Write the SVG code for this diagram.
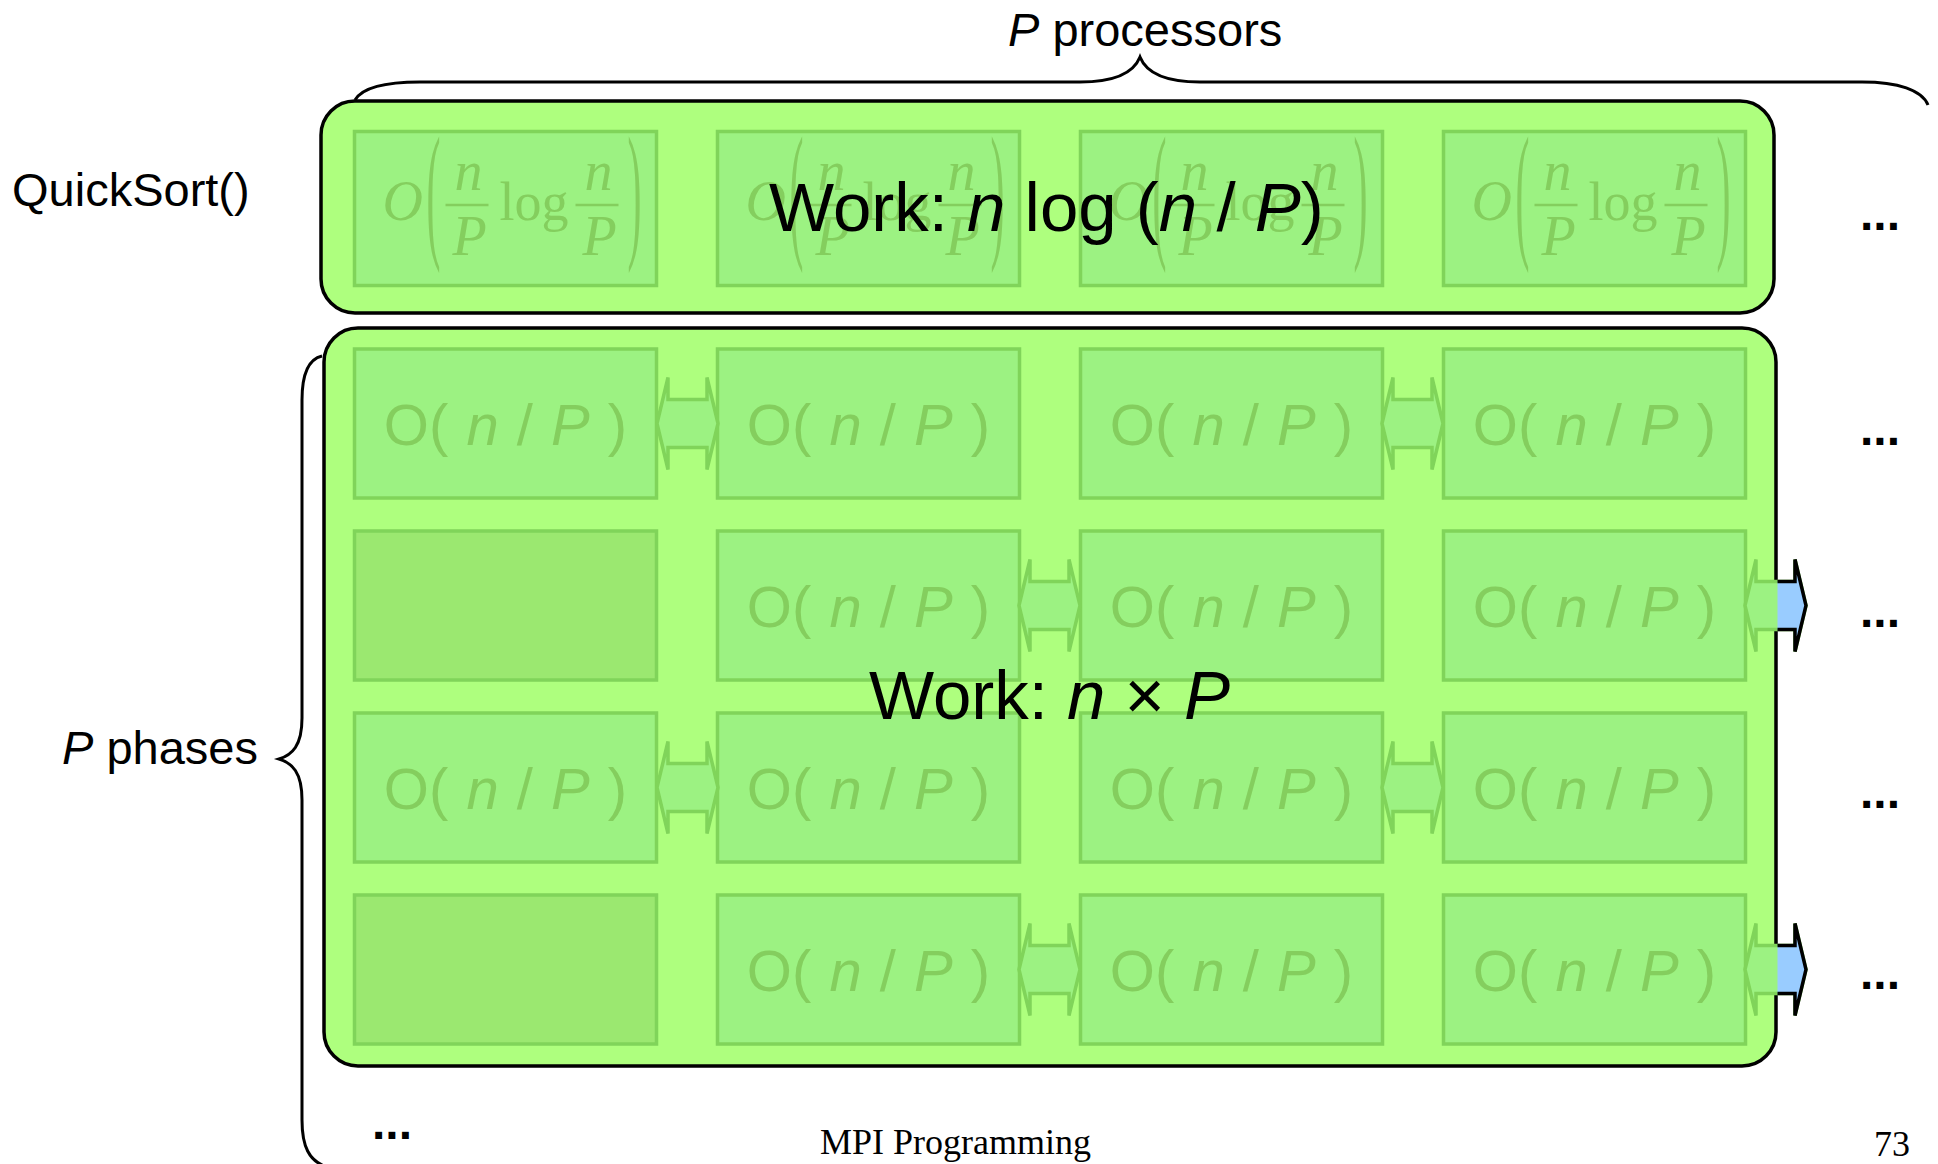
<svg xmlns="http://www.w3.org/2000/svg" xmlns:xlink="http://www.w3.org/1999/xlink" width="1938" height="1164" viewBox="0 0 1938 1164">
  <style>
    .lbl { font-family: "Liberation Sans", Arial, sans-serif; font-size: 47px; fill: #000; }
    .dots { font-family: "Liberation Sans", Arial, sans-serif; font-size: 48px; font-weight: bold; fill: #000; }
    .work { font-family: "Liberation Sans", Arial, sans-serif; font-size: 69px; fill: #000; }
    .it { font-style: italic; }
    .group { fill: #aeff7e; stroke: #000; stroke-width: 3.5; }
    .cell { fill: #9cf282; stroke: #80d45a; stroke-width: 3.5; }
    .idle { fill: #9be870; stroke: #80d45a; stroke-width: 3.5; }
    .cost { font-family: "Liberation Sans", Arial, sans-serif; font-size: 58px; word-spacing: 2px; fill: #84ce5e; text-anchor: middle; }
    .math { font-family: "Liberation Serif", "Times New Roman", serif; fill: #84ce5e; }
    .mi { font-style: italic; font-size: 56px; }
    .fr { font-style: italic; font-size: 56px; text-anchor: middle; }
    .fn { font-size: 54px; }
    .paren { font-family: "Liberation Serif", "Times New Roman", serif; font-size: 150px; fill: #84ce5e; }
    .bar { stroke: #84ce5e; stroke-width: 2.5; }
    .xg { fill: #9cf282; stroke: #80d45a; stroke-width: 3.5; stroke-linejoin: miter; }
    .xb { fill: #99ccff; stroke: #000; stroke-width: 3.5; stroke-linejoin: miter; }
    .brace { fill: none; stroke: #000; stroke-width: 3; }
    .foot { font-family: "Liberation Serif", "Times New Roman", serif; font-size: 36px; fill: #000; }
  </style>
  <defs>
    <!-- double-headed exchange arrow, left tip at origin -->
    <polygon id="xchg" points="0,0 11,-46 11,-24 50,-24 50,-46 61,0 50,46 50,24 11,24 11,46"/>
    <!-- O(n/P log n/P) cost term, drawn relative to the cell's left edge -->
    <g id="qcost">
      <text class="math mi" x="28" y="220">O</text>
      <text class="paren" transform="translate(72,241) scale(0.28,1)">(</text>
      <text class="math fr" x="114" y="190">n</text>
      <line class="bar" x1="91" y1="205" x2="134" y2="205"/>
      <text class="math fr" x="115" y="255">P</text>
      <text class="math fn" x="145" y="220">log</text>
      <text class="math fr" x="244" y="190">n</text>
      <line class="bar" x1="221" y1="205" x2="264" y2="205"/>
      <text class="math fr" x="245" y="255">P</text>
      <text class="paren" transform="translate(273,241) scale(0.28,1)">)</text>
    </g>
    <clipPath id="outside">
      <rect x="1777.5" y="0" width="200" height="1164"/>
    </clipPath>
  </defs>

  <!-- labels and braces -->
  <g id="labels">
    <text class="lbl" x="1008" y="46"><tspan class="it">P</tspan> processors</text>
    <text class="lbl" x="12" y="206">QuickSort()</text>
    <text class="lbl" x="62" y="764"><tspan class="it">P</tspan> phases</text>
    <path class="brace" d="M355,100 C362,88 385,82 420,82 L1080,82 C1115,82 1134,72 1140,57 C1146,72 1165,82 1200,82 L1862,82 C1898,82 1922,90 1928,105"/>
    <path class="brace" d="M322,356 C309,359 302,372 302,400 L302,718 C302,746 292,755 279,759 C292,763 302,772 302,800 L302,1120 C302,1148 310,1160 324,1166"/>
  </g>

  <!-- QuickSort stage -->
  <g id="quicksort">
    <rect class="group" x="321" y="101" width="1453" height="212" rx="34" ry="34"/>
    <g id="q1"><rect class="cell" x="354.5" y="131.5" width="302" height="154"/><use xlink:href="#qcost" transform="translate(354.5,0)"/></g>
    <g id="q2"><rect class="cell" x="717.5" y="131.5" width="302" height="154"/><use xlink:href="#qcost" transform="translate(717.5,0)"/></g>
    <g id="q3"><rect class="cell" x="1080.5" y="131.5" width="302" height="154"/><use xlink:href="#qcost" transform="translate(1080.5,0)"/></g>
    <g id="q4"><rect class="cell" x="1443.5" y="131.5" width="302" height="154"/><use xlink:href="#qcost" transform="translate(1443.5,0)"/></g>
  </g>

  <!-- merge phases -->
  <g id="phases">
    <rect class="group" x="324" y="328" width="1452" height="738" rx="34" ry="34"/>

    <g id="r1c1"><rect class="cell" x="354.5" y="349" width="302" height="149"/><text class="cost" x="505.5" y="445">O( <tspan class="it">n</tspan> / <tspan class="it">P</tspan> )</text></g>
    <g id="r1c2"><rect class="cell" x="717.5" y="349" width="302" height="149"/><text class="cost" x="868.5" y="445">O( <tspan class="it">n</tspan> / <tspan class="it">P</tspan> )</text></g>
    <g id="r1c3"><rect class="cell" x="1080.5" y="349" width="302" height="149"/><text class="cost" x="1231.5" y="445">O( <tspan class="it">n</tspan> / <tspan class="it">P</tspan> )</text></g>
    <g id="r1c4"><rect class="cell" x="1443.5" y="349" width="302" height="149"/><text class="cost" x="1594.5" y="445">O( <tspan class="it">n</tspan> / <tspan class="it">P</tspan> )</text></g>

    <g id="r2c1"><rect class="idle" x="354.5" y="531" width="302" height="149"/></g>
    <g id="r2c2"><rect class="cell" x="717.5" y="531" width="302" height="149"/><text class="cost" x="868.5" y="627">O( <tspan class="it">n</tspan> / <tspan class="it">P</tspan> )</text></g>
    <g id="r2c3"><rect class="cell" x="1080.5" y="531" width="302" height="149"/><text class="cost" x="1231.5" y="627">O( <tspan class="it">n</tspan> / <tspan class="it">P</tspan> )</text></g>
    <g id="r2c4"><rect class="cell" x="1443.5" y="531" width="302" height="149"/><text class="cost" x="1594.5" y="627">O( <tspan class="it">n</tspan> / <tspan class="it">P</tspan> )</text></g>

    <g id="r3c1"><rect class="cell" x="354.5" y="713" width="302" height="149"/><text class="cost" x="505.5" y="809">O( <tspan class="it">n</tspan> / <tspan class="it">P</tspan> )</text></g>
    <g id="r3c2"><rect class="cell" x="717.5" y="713" width="302" height="149"/><text class="cost" x="868.5" y="809">O( <tspan class="it">n</tspan> / <tspan class="it">P</tspan> )</text></g>
    <g id="r3c3"><rect class="cell" x="1080.5" y="713" width="302" height="149"/><text class="cost" x="1231.5" y="809">O( <tspan class="it">n</tspan> / <tspan class="it">P</tspan> )</text></g>
    <g id="r3c4"><rect class="cell" x="1443.5" y="713" width="302" height="149"/><text class="cost" x="1594.5" y="809">O( <tspan class="it">n</tspan> / <tspan class="it">P</tspan> )</text></g>

    <g id="r4c1"><rect class="idle" x="354.5" y="895" width="302" height="149"/></g>
    <g id="r4c2"><rect class="cell" x="717.5" y="895" width="302" height="149"/><text class="cost" x="868.5" y="991">O( <tspan class="it">n</tspan> / <tspan class="it">P</tspan> )</text></g>
    <g id="r4c3"><rect class="cell" x="1080.5" y="895" width="302" height="149"/><text class="cost" x="1231.5" y="991">O( <tspan class="it">n</tspan> / <tspan class="it">P</tspan> )</text></g>
    <g id="r4c4"><rect class="cell" x="1443.5" y="895" width="302" height="149"/><text class="cost" x="1594.5" y="991">O( <tspan class="it">n</tspan> / <tspan class="it">P</tspan> )</text></g>
  </g>

  <!-- pairwise exchanges between neighbouring processors -->
  <g id="connectors">
    <use xlink:href="#xchg" class="xg" transform="translate(657,423.5)"/>
    <use xlink:href="#xchg" class="xg" transform="translate(1382,423.5)"/>
    <use xlink:href="#xchg" class="xg" transform="translate(1019,605.5)"/>
    <use xlink:href="#xchg" class="xg" transform="translate(1745,605.5)"/>
    <use xlink:href="#xchg" class="xg" transform="translate(657,787.5)"/>
    <use xlink:href="#xchg" class="xg" transform="translate(1382,787.5)"/>
    <use xlink:href="#xchg" class="xg" transform="translate(1019,969.5)"/>
    <use xlink:href="#xchg" class="xg" transform="translate(1745,969.5)"/>
    <g clip-path="url(#outside)">
      <use xlink:href="#xchg" class="xb" transform="translate(1745,605.5)"/>
      <use xlink:href="#xchg" class="xb" transform="translate(1745,969.5)"/>
    </g>
  </g>

  <!-- totals -->
  <g id="totals">
    <text class="work" x="769" y="231">Work: <tspan class="it">n</tspan> log (<tspan class="it">n</tspan> / <tspan class="it">P</tspan>)</text>
    <text class="work" x="869" y="719">Work: <tspan class="it">n</tspan> × <tspan class="it">P</tspan></text>
  </g>

  <!-- continuation marks -->
  <g id="more">
    <text class="dots" x="1860" y="230">...</text>
    <text class="dots" x="1860" y="445">...</text>
    <text class="dots" x="1860" y="627">...</text>
    <text class="dots" x="1860" y="808">...</text>
    <text class="dots" x="1860" y="989">...</text>
    <text class="dots" x="372" y="1139">...</text>
  </g>

  <!-- slide footer -->
  <g id="footer">
    <text class="foot" x="820" y="1154">MPI Programming</text>
    <text class="foot" x="1874" y="1156">73</text>
  </g>
</svg>
